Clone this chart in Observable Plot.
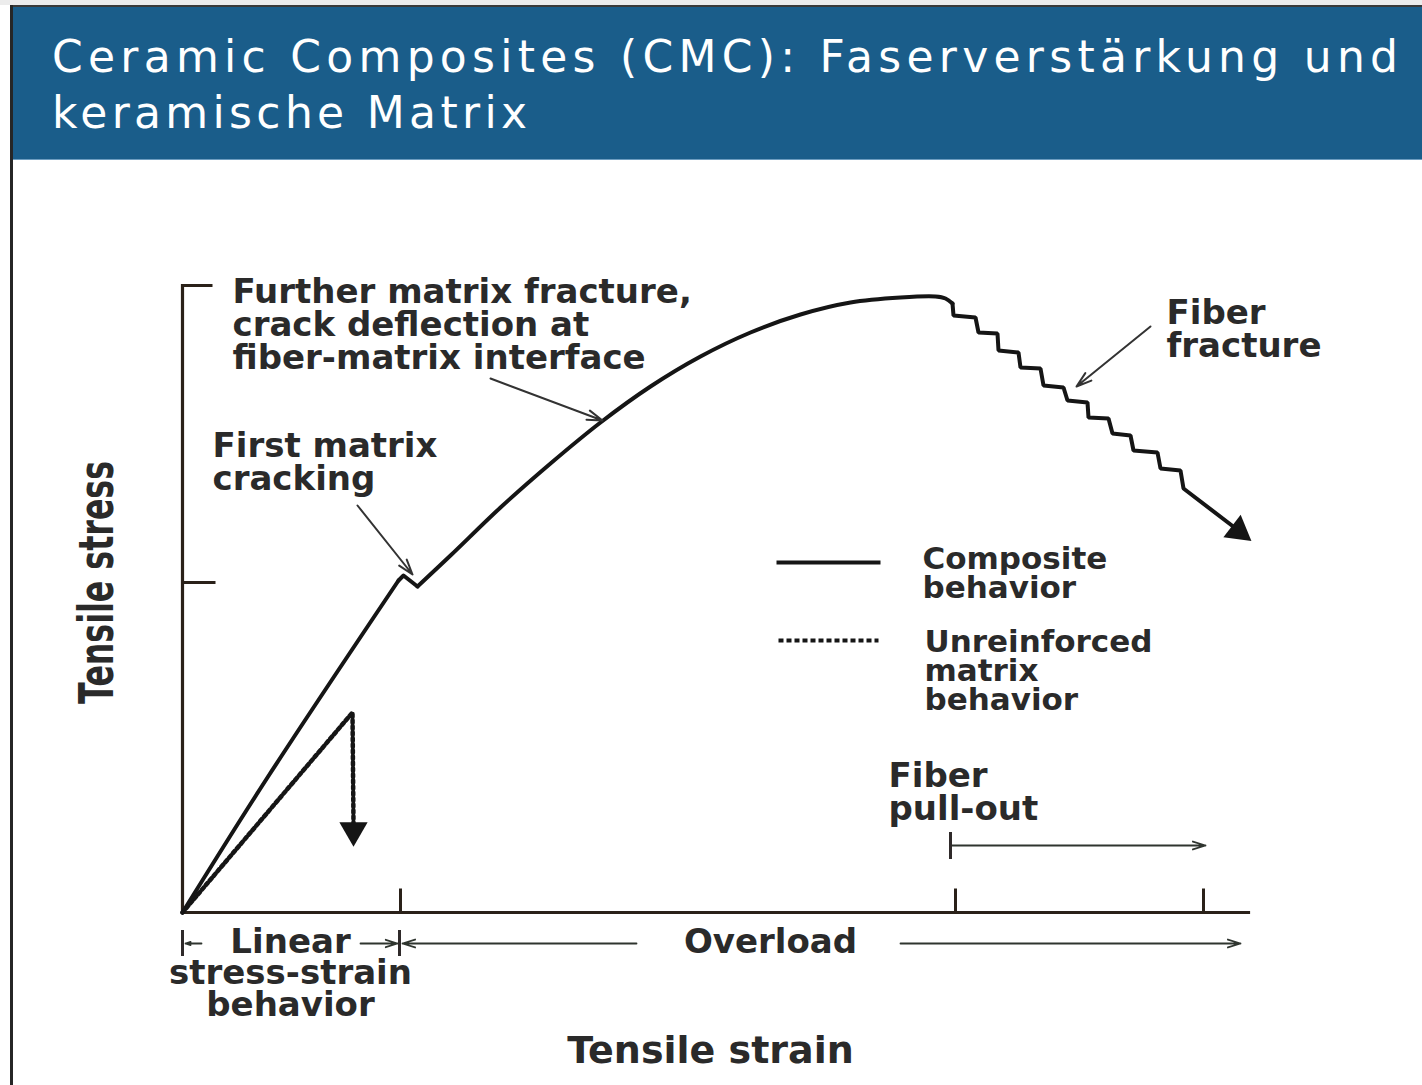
<!DOCTYPE html>
<html><head><meta charset="utf-8">
<script src="https://cdn.jsdelivr.net/npm/d3@7"></script>
<script src="https://cdn.jsdelivr.net/npm/@observablehq/plot@0.6"></script>
<style>
html,body{margin:0;padding:0;background:#fff;width:1422px;height:1085px;overflow:hidden;}
#topstrip{position:absolute;left:0;top:0;width:1422px;height:5px;background:#ececec;}
#topline{position:absolute;left:10px;top:5px;width:1412px;height:2px;background:#3a3a3a;}
#leftline{position:absolute;left:10px;top:5px;width:3px;height:1080px;background:#262626;z-index:5;}
#banner{position:absolute;left:13px;top:7px;width:1409px;height:152px;background:#1a5d8a;border-bottom:1px solid #6d9dc0;}
.tl{position:absolute;left:39px;color:#fff;font-family:"DejaVu Sans";font-size:44px;line-height:56px;white-space:nowrap;}
#chart{position:absolute;left:0;top:160px;}
</style></head>
<body>
<div id="topstrip"></div>
<div id="topline"></div>
<div id="banner">
  <div class="tl" id="t1" style="top:22px">Ceramic Composites (CMC): Faserverstärkung und</div>
  <div class="tl" id="t2" style="top:78px">keramische Matrix</div>
</div>
<div id="leftline"></div>
<div id="chart"></div>
<script>
// ---------- data (strain / stress in arbitrary units) ----------
const strainDomain = [0, 106.6];
const stressDomain = [0, 62.7];

const compositeRise = [
  {strain: 0, stress: 0}, {strain: 8.5, stress: 13.5}, {strain: 21.6, stress: 33.2}
];
const compositeNotch = [
  {strain: 21.6, stress: 33.2}, {strain: 22.1, stress: 33.7}, {strain: 23.5, stress: 32.6}
];
const compositeHardening = [
  {strain: 23.5, stress: 32.6}, {strain: 26.8, stress: 35.7}, {strain: 31.8, stress: 40.5},
  {strain: 36.8, stress: 44.9}, {strain: 41.8, stress: 49.0}, {strain: 46.8, stress: 52.6},
  {strain: 51.8, stress: 55.6}, {strain: 56.8, stress: 58.0}, {strain: 61.8, stress: 59.8},
  {strain: 66.8, stress: 61.0}, {strain: 71.8, stress: 61.5}, {strain: 75.3, stress: 61.6},
  {strain: 76.3, stress: 61.4}, {strain: 77.0, stress: 60.9}
];
const fiberFractureSteps = [
  {strain: 77.0, stress: 60.9}, {strain: 77.1, stress: 59.7}, {strain: 79.3, stress: 59.5},
  {strain: 79.6, stress: 58.0}, {strain: 81.5, stress: 57.9}, {strain: 81.6, stress: 56.2},
  {strain: 83.6, stress: 56.0}, {strain: 83.8, stress: 54.5}, {strain: 85.8, stress: 54.4},
  {strain: 86.1, stress: 52.7}, {strain: 88.1, stress: 52.5}, {strain: 88.5, stress: 51.2},
  {strain: 90.5, stress: 51.0}, {strain: 90.6, stress: 49.5}, {strain: 92.6, stress: 49.4},
  {strain: 93.0, stress: 47.9}, {strain: 94.8, stress: 47.7}, {strain: 95.1, stress: 46.2},
  {strain: 97.5, stress: 46.0}, {strain: 97.8, stress: 44.4}, {strain: 99.8, stress: 44.2},
  {strain: 100.1, stress: 42.4}, {strain: 105.2, stress: 38.5}
];
const unreinforced = [
  {strain: 0, stress: 0}, {strain: 17.0, stress: 20.0}, {strain: 17.1, stress: 8.9}
];
const arrowHeads = [
  {strain: 105.6, stress: 38.15, angle: 127.6},
  {strain: 17.1, stress: 8.2, angle: 180}
];

const xTicks = [21.8, 77.3, 102.1];
const xTickLength = 2.4;
const yTicks = [{stress: 62.7, len: 3.0}, {stress: 33.0, len: 3.3}];

const annotations = [
  {strain: 5.0, stress: 58.7, text: "Further matrix fracture,\ncrack deflection at\nfiber-matrix interface"},
  {strain: 3.0, stress: 45.0, text: "First matrix\ncracking"},
  {strain: 98.4, stress: 58.25, text: "Fiber\nfracture"},
  {strain: 70.6, stress: 12.0, text: "Fiber\npull-out"}
];
const pointerArrows = [
  {x1: 30.8, y1: 53.4, x2: 42.0, y2: 49.2},
  {x1: 17.5, y1: 40.7, x2: 23.0, y2: 33.8},
  {x1: 96.8, y1: 58.6, x2: 89.4, y2: 52.6}
];
const rangeArrows = [
  {x1: 1.9, y1: -3.1, x2: 0.3, y2: -3.1},
  {x1: 17.8, y1: -3.1, x2: 21.5, y2: -3.1},
  {x1: 45.4, y1: -3.1, x2: 22.0, y2: -3.1},
  {x1: 71.8, y1: -3.1, x2: 105.8, y2: -3.1},
  {x1: 76.8, y1: 6.7, x2: 102.3, y2: 6.7}
];
const rangeBars = [
  {strain: 0, y1: -1.8, y2: -4.4},
  {strain: 21.7, y1: -1.8, y2: -4.4},
  {strain: 76.8, y1: 5.3, y2: 8.0}
];
const rangeLabels = [
  {strain: 10.8, stress: -3.0, text: "Linear"},
  {strain: 58.8, stress: -3.0, text: "Overload"},
  {strain: 10.8, stress: -7.7, text: "stress-strain\nbehavior"}
];
const legendComposite = [{x1: 59.4, x2: 69.8, y: 35.0, labelX: 74.0, labelY: 33.8, label: "Composite\nbehavior"}];
const legendMatrix = [{x1: 59.6, x2: 69.6, y: 27.2, labelX: 74.2, labelY: 24.1, label: "Unreinforced\nmatrix\nbehavior"}];
const axisTitles = [
  {strain: 52.8, stress: -13.8, text: "Tensile strain", rotate: 0},
  {strain: -8.5, stress: 33.0, text: "Tensile stress", rotate: -90}
];

// ---------- derived geometry ----------
const axisLines = [
  {x1: strainDomain[0], y1: 0, x2: strainDomain[1], y2: 0},
  {x1: 0, y1: stressDomain[0], x2: 0, y2: stressDomain[1]}
];
const tickLines = [
  ...xTicks.map(t => ({x1: t, y1: 0, x2: t, y2: xTickLength})),
  ...yTicks.map(t => ({x1: 0, y1: t.stress, x2: t.len, y2: t.stress}))
];

const ink = "#151515";
const axisInk = "#2a2119";
const textInk = "#2a2a2a";
const font = "DejaVu Sans";

const plot = Plot.plot({
  width: 1422, height: 925,
  marginLeft: 182, marginRight: 174, marginTop: 125, marginBottom: 173,
  x: {domain: strainDomain, axis: null},
  y: {domain: stressDomain, axis: null},
  style: {background: "transparent", overflow: "visible"},
  marks: [
    Plot.link(axisLines, {x1: "x1", y1: "y1", x2: "x2", y2: "y2", stroke: axisInk, strokeWidth: 3.2, strokeLinecap: "square"}),
    Plot.link(tickLines, {x1: "x1", y1: "y1", x2: "x2", y2: "y2", stroke: axisInk, strokeWidth: 3}),
    Plot.line(unreinforced, {x: "strain", y: "stress", stroke: ink, strokeWidth: 4.5, strokeDasharray: "3,3", curve: "linear"}),
    Plot.line(compositeRise, {x: "strain", y: "stress", stroke: ink, strokeWidth: 4, curve: "catmull-rom"}),
    Plot.line(compositeNotch, {x: "strain", y: "stress", stroke: ink, strokeWidth: 4, strokeLinejoin: "round", curve: "linear"}),
    Plot.line(compositeHardening, {x: "strain", y: "stress", stroke: ink, strokeWidth: 4, curve: "catmull-rom"}),
    Plot.line(fiberFractureSteps, {x: "strain", y: "stress", stroke: ink, strokeWidth: 4, strokeLinejoin: "miter", curve: "linear"}),
    Plot.dot(arrowHeads, {x: "strain", y: "stress", symbol: "triangle", r: 10.5, rotate: "angle", fill: ink, stroke: "none"}),
    Plot.arrow(pointerArrows, {x1: "x1", y1: "y1", x2: "x2", y2: "y2", stroke: "#333", strokeWidth: 2, headLength: 12, headAngle: 35}),
    Plot.arrow(rangeArrows, {x1: "x1", y1: "y1", x2: "x2", y2: "y2", stroke: "#2f352f", strokeWidth: 1.8, headLength: 11, headAngle: 35}),
    Plot.ruleX(rangeBars, {x: "strain", y1: "y1", y2: "y2", stroke: "#2f2a2a", strokeWidth: 3}),
    Plot.link(legendComposite, {x1: "x1", x2: "x2", y1: "y", y2: "y", stroke: ink, strokeWidth: 4}),
    Plot.link(legendMatrix, {x1: "x1", x2: "x2", y1: "y", y2: "y", stroke: ink, strokeWidth: 4, strokeDasharray: "5,3"}),
    Plot.text(legendComposite.concat(legendMatrix), {x: "labelX", y: "labelY", text: "label", textAnchor: "start", lineAnchor: "middle", fontSize: 31, lineHeight: 0.94, fontFamily: font, fontWeight: "bold", fill: textInk}),
    Plot.text(annotations, {x: "strain", y: "stress", text: "text", textAnchor: "start", lineAnchor: "middle", fontSize: 34, lineHeight: 0.97, fontFamily: font, fontWeight: "bold", fill: textInk}),
    Plot.text(rangeLabels, {x: "strain", y: "stress", text: "text", textAnchor: "middle", lineAnchor: "middle", fontSize: 34, lineHeight: 0.94, fontFamily: font, fontWeight: "bold", fill: textInk}),
    Plot.text(axisTitles, {x: "strain", y: "stress", text: "text", rotate: "rotate", textAnchor: "middle", lineAnchor: "middle", fontSize: 38, fontFamily: font, fontWeight: "bold", fill: textInk})
  ]
});

// vertical axis title is drawn tall and narrow like the original
d3.select(plot).selectAll("text")
  .filter(function () { return this.textContent === "Tensile stress"; })
  .attr("font-size", 48)
  .attr("textLength", 243)
  .attr("lengthAdjust", "spacingAndGlyphs");

document.getElementById("chart").appendChild(plot);

// stretch title letters to the banner width of the original
function fitLine(id, target) {
  const el = document.getElementById(id);
  el.style.letterSpacing = "0px";
  const w = el.getBoundingClientRect().width;
  const n = el.textContent.length;
  el.style.letterSpacing = ((target - w) / (n - 1)) + "px";
}
fitLine("t1", 1346);
fitLine("t2", 475);
</script>
</body></html>
